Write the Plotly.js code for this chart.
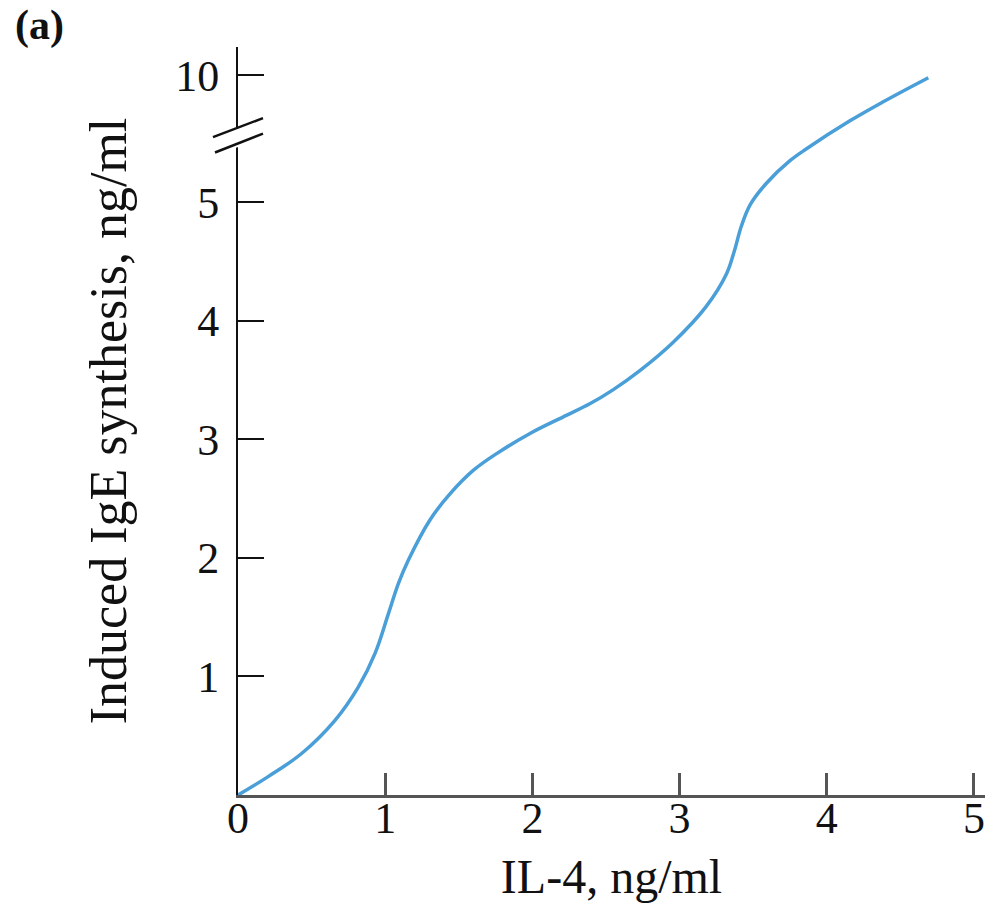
<!DOCTYPE html>
<html>
<head>
<meta charset="utf-8">
<script src="https://cdn.plot.ly/plotly-3.0.1.min.js"></script>
<style>html,body{margin:0;padding:0;background:#fff;}#chart{width:994px;height:915px;}</style>
</head>
<body>
<div id="chart"></div>
<script>
// IL-4 concentration (ng/ml)
const il4 = [0, 0.205, 0.432, 0.659, 0.817, 0.931, 1.022, 1.09, 1.157, 1.304, 1.44, 1.60, 1.757, 1.984, 2.21, 2.39, 2.55, 2.73, 2.957, 3.18, 3.32, 3.37, 3.42, 3.48, 3.59, 3.75, 3.86, 4.16, 4.38, 4.69];
// Induced IgE synthesis (ng/ml), real values
const ige = [0, 0.155, 0.35, 0.63, 0.91, 1.195, 1.53, 1.785, 1.98, 2.32, 2.54, 2.74, 2.88, 3.05, 3.19, 3.30, 3.42, 3.58, 3.82, 4.12, 4.40, 4.58, 4.80, 4.98, 5.75, 6.64, 7.10, 8.22, 8.95, 9.91];
const xTicks = [0, 1, 2, 3, 4, 5];
const yTicks = [1, 2, 3, 4, 5, 10];

// broken axis: above 5 the scale is compressed
const BREAK = 5, UPPER_SCALE = 1.07 / 5;
function brk(v) { return v <= BREAK ? v : BREAK + (v - BREAK) * UPPER_SCALE; }

const font = "Liberation Serif, Times New Roman, serif";

const trace = {
  x: il4,
  y: ige.map(brk),
  type: 'scatter',
  mode: 'lines',
  line: {color: '#4a9fd8', width: 3.5, shape: 'spline', smoothing: 1},
  hoverinfo: 'skip'
};

const layout = {
  width: 994, height: 915,
  margin: {l: 238, r: 9, t: 47, b: 120},
  paper_bgcolor: '#fff', plot_bgcolor: '#fff',
  showlegend: false,
  xaxis: {
    range: [0, 5.075],
    tickvals: xTicks, ticktext: xTicks.map(String),
    ticks: 'inside', ticklen: 22, tickwidth: 3, tickcolor: '#555',
    showline: true, linecolor: '#555', linewidth: 3,
    showgrid: false, zeroline: false,
    ticklabelstandoff: -18,
    tickfont: {family: font, size: 44, color: '#111'},
    title: {text: 'IL-4, ng/ml', font: {family: font, size: 48, color: '#111'}, standoff: 18}
  },
  yaxis: {
    range: [0, 6.31],
    tickvals: yTicks.map(brk), ticktext: yTicks.map(String),
    ticks: 'inside', ticklen: 26, tickwidth: 2, tickcolor: '#111',
    showline: true, linecolor: '#111', linewidth: 2,
    showgrid: false, zeroline: false,
    ticklabelstandoff: 8,
    tickfont: {family: font, size: 44, color: '#111'},
    title: {text: 'Induced IgE synthesis, ng/ml', font: {family: font, size: 52, color: '#111'}, standoff: 32}
  },
  shapes: [
    {type: 'path', xref: 'paper', yref: 'y', layer: 'above',
     path: `M ${-0.02} 5.60 L ${0.02} 5.67 L ${0.02} 5.50 L ${-0.02} 5.43 Z`,
     fillcolor: '#fff', line: {width: 0}},
    {type: 'line', xref: 'paper', yref: 'y', layer: 'above',
     x0: (213 - 238) / 747, y0: 5.55, x1: (263 - 238) / 747, y1: 5.71, line: {color: '#111', width: 2.5}},
    {type: 'line', xref: 'paper', yref: 'y', layer: 'above',
     x0: (215 - 238) / 747, y0: 5.42, x1: (263 - 238) / 747, y1: 5.58, line: {color: '#111', width: 2.5}}
  ],
  annotations: [
    {text: '(a)', xref: 'paper', yref: 'paper', x: (13 - 238) / 747, y: (795 - 25) / 748,
     xanchor: 'left', yanchor: 'middle', showarrow: false,
     font: {family: font, size: 42, color: '#111', weight: 'bold'}}
  ]
};

Plotly.newPlot('chart', [trace], layout, {displayModeBar: false, staticPlot: true});
</script>
</body>
</html>
